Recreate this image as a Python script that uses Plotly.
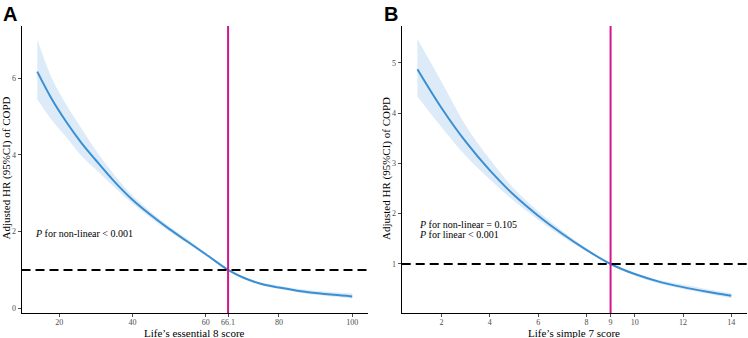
import plotly.graph_objects as go

# ---------------- Data ----------------
# Panel A: Life's essential 8 score
le8_x = [14, 18, 22, 26, 30, 35, 40, 45, 50, 55, 60, 66.1, 70, 75, 80, 85, 90, 95, 100]
le8_hr = [6.17, 5.45, 4.85, 4.32, 3.86, 3.31, 2.83, 2.43, 2.07, 1.74, 1.41, 1.0, 0.81, 0.64, 0.54, 0.46, 0.40, 0.35, 0.31]
le8_lo = [5.45, 4.9, 4.45, 3.98, 3.62, 3.16, 2.73, 2.35, 2.01, 1.69, 1.37, 1.0, 0.79, 0.61, 0.5, 0.42, 0.35, 0.3, 0.25]
le8_hi = [7.01, 6.0, 5.3, 4.7, 4.12, 3.48, 2.94, 2.52, 2.14, 1.80, 1.45, 1.0, 0.84, 0.67, 0.59, 0.51, 0.46, 0.42, 0.39]
le8_ref = 66.1
le8_xticks = [20, 40, 60, 66.1, 80, 100]
le8_xticklabels = ["20", "40", "60", "66.1", "80", "100"]
le8_yticks = [0, 2, 4, 6]

# Panel B: Life's simple 7 score
ls7_x = [1, 2, 3, 4, 5, 6, 7, 8, 9, 10, 11, 12, 13, 14]
ls7_hr = [4.87, 4.1, 3.43, 2.86, 2.37, 1.96, 1.6, 1.28, 1.0, 0.8, 0.65, 0.54, 0.45, 0.37]
ls7_lo = [4.33, 3.72, 3.15, 2.68, 2.25, 1.88, 1.54, 1.25, 1.0, 0.77, 0.61, 0.5, 0.41, 0.32]
ls7_hi = [5.47, 4.62, 3.75, 3.08, 2.5, 2.05, 1.66, 1.31, 1.0, 0.82, 0.68, 0.59, 0.5, 0.42]
ls7_ref = 9
ls7_xticks = [2, 4, 6, 8, 9, 10, 12, 14]
ls7_xticklabels = ["2", "4", "6", "8", "9", "10", "12", "14"]
ls7_yticks = [1, 2, 3, 4, 5]

hr_ref = 1

# ---------------- Styles ----------------
W, H = 748, 338
LINE_COL = "#3a8fd3"
BAND_COL = "rgba(198,222,244,0.6)"
VLINE_COL = "#d4158f"
SERIF = "Liberation Serif, Times New Roman, serif"
SANS = "Liberation Sans, Arial, sans-serif"

def px2x(p):
    return p / W

def px2y(p):
    return 1 - p / H

fig = go.Figure()

panels = [
    dict(x=le8_x, hr=le8_hr, lo=le8_lo, hi=le8_hi, xa="x", ya="y"),
    dict(x=ls7_x, hr=ls7_hr, lo=ls7_lo, hi=ls7_hi, xa="x2", ya="y2"),
]
for p in panels:
    fig.add_trace(go.Scatter(x=p["x"], y=p["lo"], mode="lines", line=dict(width=0, color=BAND_COL, shape="spline"),
                             xaxis=p["xa"], yaxis=p["ya"], showlegend=False, hoverinfo="skip"))
    fig.add_trace(go.Scatter(x=p["x"], y=p["hi"], mode="lines", line=dict(width=0, color=BAND_COL, shape="spline"),
                             fill="tonexty", fillcolor=BAND_COL,
                             xaxis=p["xa"], yaxis=p["ya"], showlegend=False, hoverinfo="skip"))
    fig.add_trace(go.Scatter(x=p["x"], y=p["hr"], mode="lines", line=dict(width=2, color=LINE_COL, shape="spline"),
                             xaxis=p["xa"], yaxis=p["ya"], showlegend=False))

ydom = [px2y(313), px2y(26)]
axis_common = dict(showgrid=False, zeroline=False, showline=True, linecolor="black", linewidth=1,
                   ticks="outside", ticklen=3, tickwidth=0.8, tickcolor="#4d4d4d",
                   tickfont=dict(family=SERIF, size=8, color="#4d4d4d"))

fig.update_layout(
    width=W, height=H, margin=dict(l=0, r=0, t=0, b=0),
    plot_bgcolor="white", paper_bgcolor="white",
    xaxis=dict(domain=[px2x(21.5), px2x(368)], range=[9.7, 104.3], tickvals=le8_xticks,
               ticktext=le8_xticklabels, anchor="y", ticklabelstandoff=-2, **axis_common),
    yaxis=dict(domain=ydom, range=[-0.123, 7.36], tickvals=le8_yticks, anchor="x", **axis_common),
    xaxis2=dict(domain=[px2x(401.7), px2x(747)], range=[0.35, 14.65], tickvals=ls7_xticks,
                ticktext=ls7_xticklabels, anchor="y2", ticklabelstandoff=-2, **axis_common),
    yaxis2=dict(domain=ydom, range=[0.026, 5.73], tickvals=ls7_yticks, anchor="x2", **axis_common),
)

# Reference lines
for xa, ya, xref_val in [("x", "y", le8_ref), ("x2", "y2", ls7_ref)]:
    fig.add_shape(type="line", xref=xa, yref=ya + " domain", x0=xref_val, x1=xref_val, y0=0, y1=1,
                  line=dict(color=VLINE_COL, width=2))
    fig.add_shape(type="line", xref=xa + " domain", yref=ya, x0=0, x1=1, y0=hr_ref, y1=hr_ref,
                  line=dict(color="black", width=2, dash="9px,5px"))

# Annotations
ann = []
ann.append(dict(x=12.8, y=1.94, xref="x", yref="y", xanchor="left", yanchor="middle", showarrow=False,
                text="<i>P</i> for non-linear &lt; 0.001", font=dict(family=SERIF, size=10, color="black")))
ann.append(dict(x=0.97, y=1.775, xref="x2", yref="y2", xanchor="left", yanchor="middle", showarrow=False,
                text="<i>P</i> for non-linear = 0.105", font=dict(family=SERIF, size=10, color="black")))
ann.append(dict(x=0.97, y=1.577, xref="x2", yref="y2", xanchor="left", yanchor="middle", showarrow=False,
                text="<i>P</i> for linear &lt; 0.001", font=dict(family=SERIF, size=10, color="black")))
# axis titles
for xc, txt in [(194.5, "Life’s essential 8 score"), (574, "Life’s simple 7 score")]:
    ann.append(dict(x=px2x(xc), y=px2y(333), xref="paper", yref="paper", xanchor="center", yanchor="middle",
                    showarrow=False, text=txt, font=dict(family=SERIF, size=11, color="black")))
for xc in [5.5, 386]:
    ann.append(dict(x=px2x(xc), y=px2y(168), xref="paper", yref="paper", xanchor="center", yanchor="middle",
                    showarrow=False, textangle=-90, text="Adjusted HR (95%CI) of COPD",
                    font=dict(family=SERIF, size=11, color="black")))
# panel labels
for xl, lab in [(1, "A"), (381.5, "B")]:
    ann.append(dict(x=px2x(xl), y=px2y(1), xref="paper", yref="paper", xanchor="left", yanchor="top",
                    showarrow=False, text="<b>" + lab + "</b>", font=dict(family=SANS, size=20, color="black")))
fig.update_layout(annotations=ann)

fig.write_html("out.html", config={"displayModeBar": False},
               post_script="document.body.style.margin='0';document.body.style.overflow='hidden';")
